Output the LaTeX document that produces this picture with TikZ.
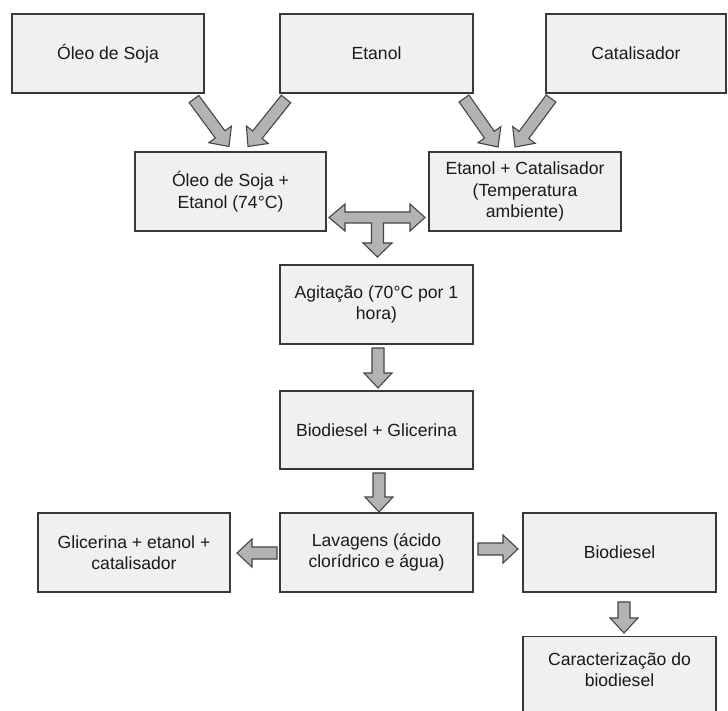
\documentclass[tikz,border=0pt]{standalone}
\usepackage{fontspec}
\setmainfont{Liberation Sans}
\usetikzlibrary{calc}
\definecolor{boxfill}{HTML}{F0F0F0}
\definecolor{boxline}{HTML}{383838}
\definecolor{arrfill}{HTML}{B3B3B3}
\definecolor{arrline}{HTML}{454545}
\definecolor{txt}{HTML}{1A1A1A}
\tikzset{
  stepbox/.style={draw=boxline, fill=boxfill, line width=1.3pt, rectangle,
    minimum width=192pt, minimum height=79pt, align=center, inner sep=2pt,
    text=txt, font=\fontsize{17.6}{21.5}\selectfont},
  plaintext/.style={align=center, inner sep=0pt, text=txt,
    font=\fontsize{17.6}{21.5}\selectfont},
  blockarrow/.style={draw=arrline, fill=arrfill, line width=1.1pt, line join=miter}
}
\newcommand\barrow[2]{%
  \coordinate (hb) at ($(#2)!15pt!(#1)$);
  \draw[blockarrow] ($(#1)!6pt!90:(#2)$) -- ($(hb)!6pt!90:(#2)$) -- ($(hb)!14pt!90:(#2)$)
    -- (#2) -- ($(hb)!14pt!-90:(#2)$) -- ($(hb)!6pt!-90:(#2)$) -- ($(#1)!6pt!-90:(#2)$) -- cycle;}
\begin{document}
\begin{tikzpicture}[x=1pt,y=-1pt]
\useasboundingbox (0,0) rectangle (728,711);
% boxes
\node[stepbox] (oleo) at (108,53.5) {Óleo de Soja};
\node[stepbox, minimum width=193pt] (etanol) at (376.5,53.5) {Etanol};
\node[stepbox, minimum width=180pt] (cat) at (636,53.5) {Catalisador};
\node[stepbox, minimum width=191pt] (mix) at (230.5,191.5) {Óleo de Soja +\\Etanol (74°C)};
\node[stepbox] (ec) at (525,191.5) {Etanol + Catalisador\\(Temperatura\\ambiente)};
\node[stepbox, minimum width=193pt] (agit) at (376.5,304.5) {Agitação (70°C por 1\\hora)};
\node[stepbox, minimum width=193pt, minimum height=78pt] (bg) at (376.5,430) {Biodiesel + Glicerina};
\node[stepbox, minimum width=193pt] (lav) at (376.5,552.5) {Lavagens (ácido\\clorídrico e água)};
\node[stepbox] (gli) at (134,552.5) {Glicerina + etanol +\\catalisador};
\node[stepbox, minimum width=193pt] (bio) at (619.5,552.5) {Biodiesel};
\node[stepbox, minimum width=193pt, minimum height=80pt, anchor=north] (car) at (619.5,636) {};
\node[plaintext] (cartext) at ($(car.north)+(0,33.5)$) {Caracterização do\\biodiesel};
% arrow end points
\coordinate (a1s) at (194,99);  \coordinate (a1e) at (229,146.5);
\coordinate (a2s) at (286,99);  \coordinate (a2e) at (248,146.5);
\coordinate (a3s) at (464,98.5);  \coordinate (a3e) at (498,147);
\coordinate (a4s) at (551,98.5);  \coordinate (a4e) at (515,147);
\coordinate (a6s) at (378,348); \coordinate (a6e) at (378,388);
\coordinate (a7s) at (379,473); \coordinate (a7e) at (379,512);
\coordinate (a8s) at (277,553); \coordinate (a8e) at (237,553);
\coordinate (a9s) at (478,549); \coordinate (a9e) at (518,549);
\coordinate (a10s) at (624,602); \coordinate (a10e) at (624,633);
\barrow{a1s}{a1e}
\barrow{a2s}{a2e}
\barrow{a3s}{a3e}
\barrow{a4s}{a4e}
\barrow{a6s}{a6e}
\barrow{a7s}{a7e}
\barrow{a8s}{a8e}
\barrow{a9s}{a9e}
\barrow{a10s}{a10e}
% T-shaped arrow between mix, ec and agit
\coordinate (tee) at ($(mix.east)!.5!(ec.west)+(0,26)$);
\draw[blockarrow, shift={(tee)}]
  (-48.5,0) -- (-32.5,-13.5) -- (-32.5,-5.5) -- (32.5,-5.5) -- (32.5,-13.5) -- (47.5,0)
  -- (32.5,13.5) -- (32.5,5.5) -- (6,5.5) -- (6,25.5) -- (14.5,25.5) -- (0,39.5)
  -- (-14.5,25.5) -- (-6,25.5) -- (-6,5.5) -- (-32.5,5.5) -- (-32.5,13.5) -- cycle;
\end{tikzpicture}
\end{document}
